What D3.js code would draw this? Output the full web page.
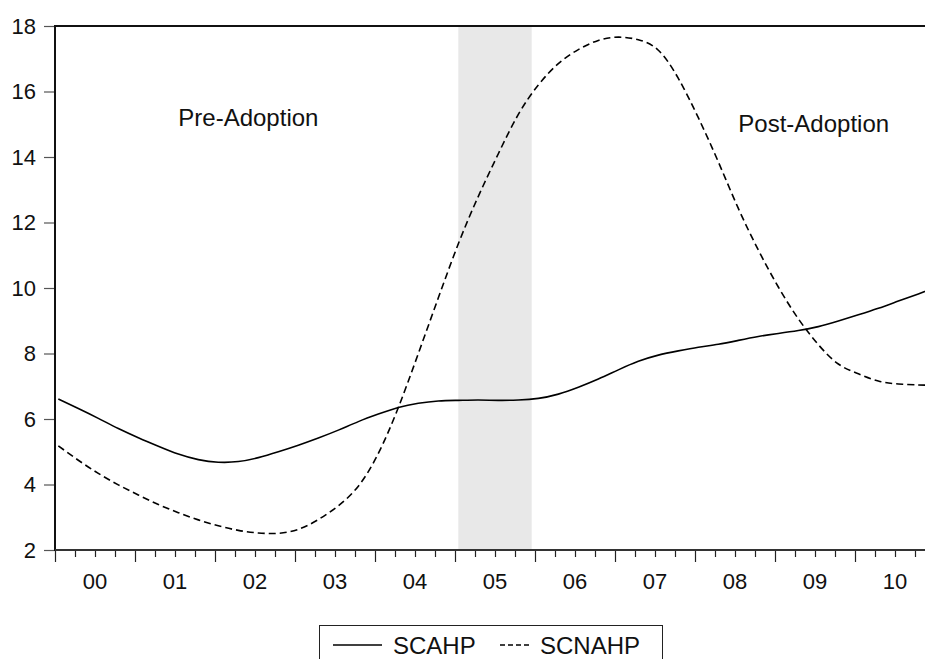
<!DOCTYPE html>
<html>
<head>
<meta charset="utf-8">
<script src="https://cdn.jsdelivr.net/npm/d3@7"></script>
<style>
  body { margin: 0; background: #fff; }
  svg { display: block; font-family: "Liberation Sans", Arial, sans-serif; }
</style>
</head>
<body>
<div id="chart"></div>
<script>
// observations (first month of each quarter, plus the last month)
const periods = [
  "2000M01","2000M04","2000M07","2000M10","2001M01","2001M04","2001M07","2001M10",
  "2002M01","2002M04","2002M07","2002M10","2003M01","2003M04","2003M07","2003M10",
  "2004M01","2004M04","2004M07","2004M10","2005M01","2005M04","2005M07","2005M10",
  "2006M01","2006M04","2006M07","2006M10","2007M01","2007M04","2007M07","2007M10",
  "2008M01","2008M04","2008M07","2008M10","2009M01","2009M04","2009M07","2009M10",
  "2010M01","2010M04","2010M07","2010M10","2010M12"
];
const scahp = [
  6.61, 6.32, 6.02, 5.71, 5.43, 5.17, 4.93, 4.76,
  4.68, 4.70, 4.82, 5.00, 5.20, 5.42, 5.66, 5.92,
  6.15, 6.35, 6.48, 6.55, 6.57, 6.58, 6.57, 6.58,
  6.63, 6.76, 6.97, 7.22, 7.50, 7.76, 7.95, 8.08,
  8.19, 8.28, 8.40, 8.52, 8.61, 8.70, 8.82, 8.99,
  9.18, 9.38, 9.60, 9.82, 9.97
];
const scnahp = [
  5.18, 4.74, 4.34, 3.99, 3.68, 3.39, 3.14, 2.92,
  2.74, 2.60, 2.52, 2.51, 2.63, 2.93, 3.35, 3.95,
  4.95, 6.35, 8.00, 9.70, 11.35, 12.80, 14.10, 15.30,
  16.20, 16.85, 17.28, 17.56, 17.66, 17.58, 17.26, 16.40,
  15.20, 13.85, 12.43, 11.16, 10.03, 9.06, 8.27, 7.68,
  7.38, 7.16, 7.07, 7.04, 7.03
];
const years = ["00","01","02","03","04","05","06","07","08","09","10"];
const yTicks = [2, 4, 6, 8, 10, 12, 14, 16, 18];
const shadeFrom = "2005M01", shadeTo = "2005M12";
const annotations = [
  {text: "Pre-Adoption", period: "2001M07", value: 14.95},
  {text: "Post-Adoption", period: "2008M07", value: 14.77}
];
const seriesNames = ["SCAHP", "SCNAHP"];

const W = 925, H = 659;
const margin = {top: 26, left: 55};
const plotRight = 935, plotBottom = 550;

// month index from "YYYYMmm", plotted at middle of the month
function monthPos(p) {
  const y = +p.slice(0, 4), m = +p.slice(5);
  return (y - 2000) * 12 + (m - 1) + 0.5;
}

const x = d3.scaleLinear().domain([0, 132]).range([margin.left, plotRight]);
const y = d3.scaleLinear().domain([2, 18]).range([plotBottom, margin.top]);

const svg = d3.select('#chart').append('svg')
  .attr('width', W).attr('height', H);

// shaded adoption period
svg.append('rect')
  .attr('x', x(monthPos(shadeFrom)))
  .attr('y', y(18))
  .attr('width', x(monthPos(shadeTo)) - x(monthPos(shadeFrom)))
  .attr('height', y(2) - y(18))
  .attr('fill', '#e8e8e8');

// y axis
const yAxis = d3.axisLeft(y).tickValues(yTicks).tickSize(11).tickPadding(8);
svg.append('g')
  .attr('transform', `translate(${margin.left},0)`)
  .call(yAxis)
  .call(g => g.select('.domain').remove())
  .call(g => g.selectAll('line').attr('stroke', '#555').attr('stroke-width', 1.2))
  .selectAll('text')
  .attr('font-size', '22px')
  .attr('fill', '#111')
  .attr('font-family', '"Liberation Sans", Arial, sans-serif');

// x axis: quarter ticks, year ticks, year labels in between
const quarterTicks = d3.range(0, 133, 3);
svg.append('g')
  .attr('transform', `translate(0,${plotBottom})`)
  .call(d3.axisBottom(x).tickValues(quarterTicks).tickSize(7).tickFormat(''))
  .call(g => g.select('.domain').remove())
  .selectAll('line')
  .attr('stroke', '#222')
  .attr('stroke-width', 1.2)
  .attr('y2', d => d % 12 === 0 ? 12 : 7);

svg.selectAll('.year')
  .data(years)
  .enter().append('text')
  .attr('class', 'year')
  .attr('x', (d, i) => x(i * 12 + 6))
  .attr('y', 589)
  .attr('text-anchor', 'middle')
  .attr('font-size', '22px')
  .attr('fill', '#111')
  .text(d => d);

// frame lines (left, top, bottom)
svg.append('line').attr('x1', margin.left).attr('x2', margin.left)
  .attr('y1', y(18) - 1).attr('y2', y(2) + 1)
  .attr('stroke', '#111').attr('stroke-width', 2);
svg.append('line').attr('x1', margin.left).attr('x2', plotRight)
  .attr('y1', y(18)).attr('y2', y(18))
  .attr('stroke', '#111').attr('stroke-width', 2);
svg.append('line').attr('x1', margin.left).attr('x2', plotRight)
  .attr('y1', y(2)).attr('y2', y(2))
  .attr('stroke', '#333').attr('stroke-width', 2);

// lines
const line = d3.line()
  .x(d => x(monthPos(d.p)))
  .y(d => y(d.v))
  .curve(d3.curveNatural);

const dataA = periods.map((p, i) => ({p: p, v: scahp[i]}));
const dataB = periods.map((p, i) => ({p: p, v: scnahp[i]}));

svg.append('path').datum(dataA)
  .attr('d', line)
  .attr('fill', 'none')
  .attr('stroke', '#000')
  .attr('stroke-width', 1.6);

svg.append('path').datum(dataB)
  .attr('d', line)
  .attr('fill', 'none')
  .attr('stroke', '#000')
  .attr('stroke-width', 1.6)
  .attr('stroke-dasharray', '7,4');

// annotations
svg.selectAll('.note')
  .data(annotations)
  .enter().append('text')
  .attr('class', 'note')
  .attr('x', d => x(monthPos(d.period)))
  .attr('y', d => y(d.value))
  .attr('font-size', '24px')
  .attr('fill', '#111')
  .text(d => d.text);

// legend
const lg = svg.append('g');
lg.append('rect')
  .attr('x', 319.5).attr('y', 625.5)
  .attr('width', 343).attr('height', 60)
  .attr('fill', '#fff').attr('stroke', '#222').attr('stroke-width', 1);
lg.append('line').attr('x1', 333).attr('x2', 382).attr('y1', 645).attr('y2', 645)
  .attr('stroke', '#000').attr('stroke-width', 1.5);
lg.append('text').attr('x', 393).attr('y', 654).attr('font-size', '24px').attr('fill', '#111')
  .text(seriesNames[0]);
lg.append('line').attr('x1', 500).attr('x2', 531).attr('y1', 645).attr('y2', 645)
  .attr('stroke', '#000').attr('stroke-width', 1.5).attr('stroke-dasharray', '5,3');
lg.append('text').attr('x', 540).attr('y', 654).attr('font-size', '24px').attr('fill', '#111')
  .text(seriesNames[1]);
</script>
</body>
</html>
